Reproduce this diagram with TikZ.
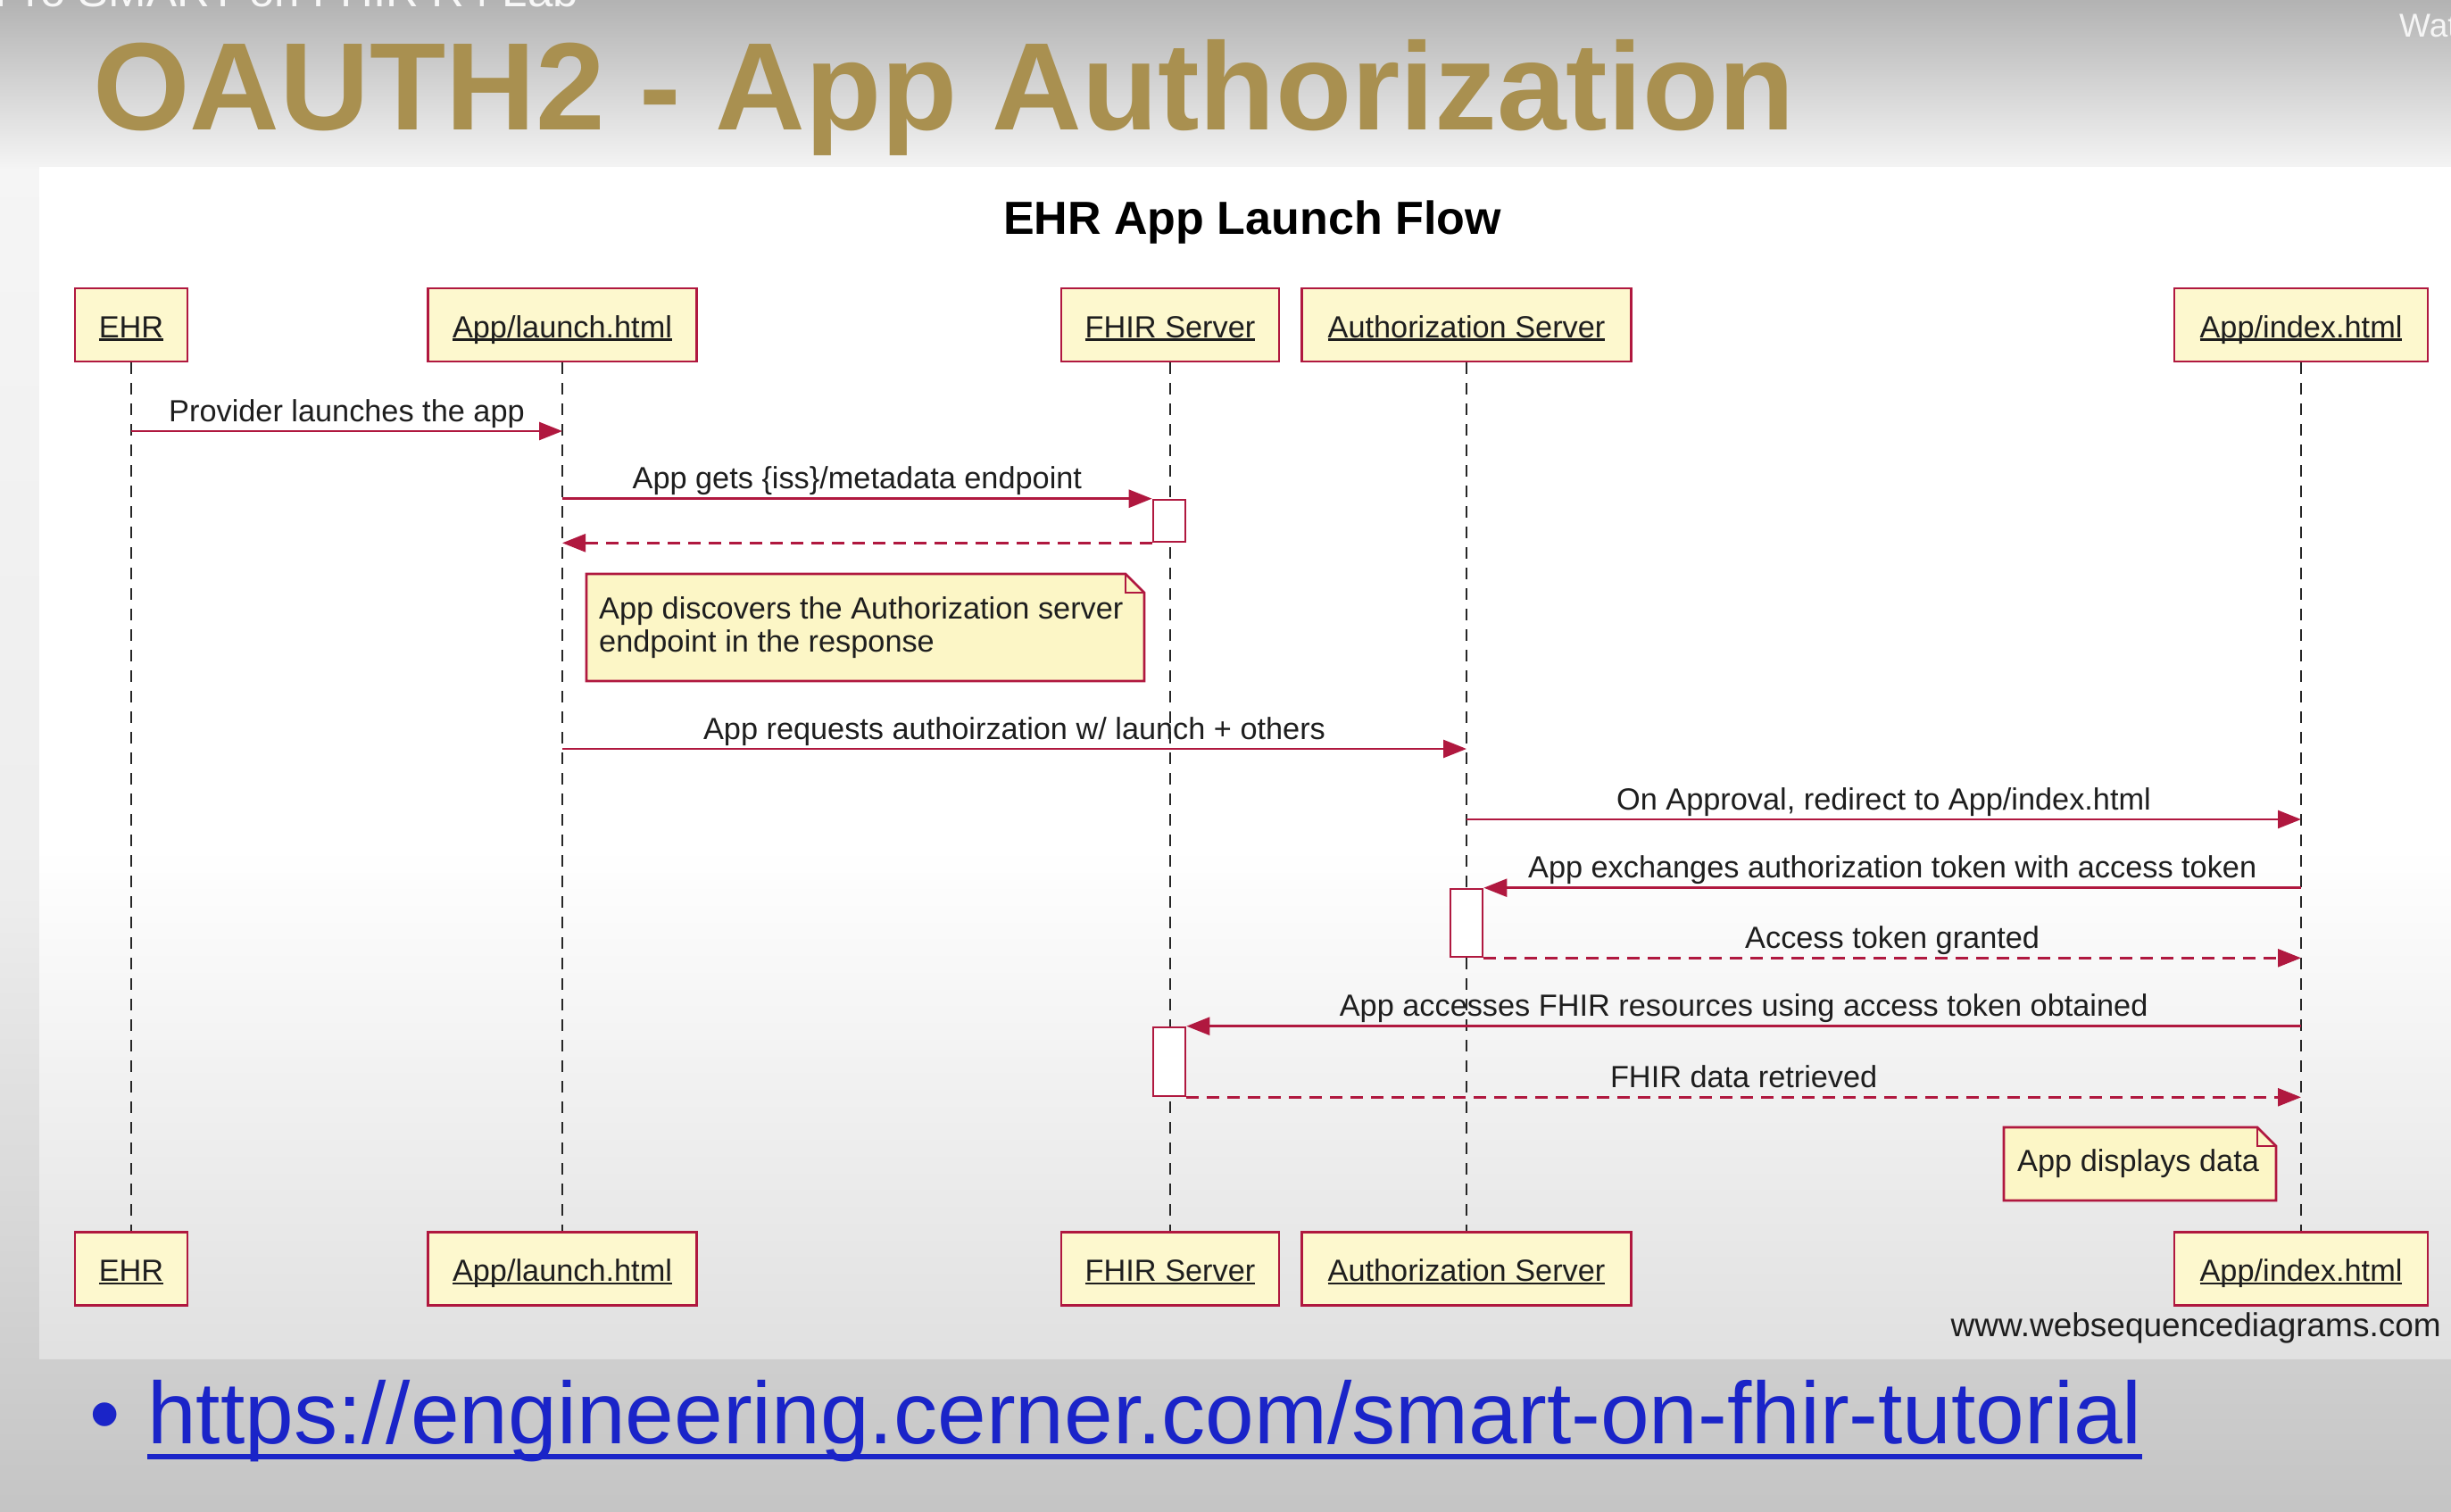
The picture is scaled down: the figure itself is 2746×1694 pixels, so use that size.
\documentclass[tikz,border=0pt]{standalone}
\usepackage{fontspec}
\setmainfont{Liberation Sans}
\usetikzlibrary{arrows.meta}

\definecolor{seqred}{HTML}{B0183F}
\definecolor{boxfill}{HTML}{FDF8CE}
\definecolor{notefill}{HTML}{FCF6C6}
\definecolor{titlegold}{HTML}{A99050}
\definecolor{linkblue}{HTML}{1A24C8}
\definecolor{inkgray}{HTML}{1E1E1E}

% underlined participant name, rule sitting just under the baseline
\newsavebox\ulnamebox
\newcommand\ulname[1]{\sbox\ulnamebox{#1}\rlap{\rule[-3.5pt]{\wd\ulnamebox}{2.2pt}}\usebox\ulnamebox}

\tikzset{
  diagfont/.style={font=\fontsize{34.3}{37}\selectfont, text=inkgray},
  participant/.style={draw=seqred, line width=2.6pt, fill=boxfill, minimum height=82pt,
    inner sep=0pt, text height=32pt, text depth=4pt, diagfont},
  lifeline/.style={draw=black!85, line width=2.2pt, dash pattern=on 13pt off 10pt},
  msg/.style={draw=seqred, line width=2.6pt, -{Triangle[length=26pt,width=20pt]}},
  reply/.style={msg, dash pattern=on 14pt off 9pt},
  msglabel/.style={diagfont, anchor=base, yshift=11pt, inner sep=0pt},
  activation/.style={draw=seqred, line width=2.6pt, fill=white, minimum width=36pt, inner sep=0pt},
  noteline/.style={draw=seqred, line width=2.6pt, fill=notefill, line join=miter},
  notetext/.style={diagfont, inner sep=0pt, align=left},
}

\begin{document}
\begin{tikzpicture}[x=1pt, y=-1pt]
\useasboundingbox (0,0) rectangle (2746,1694);
\clip (0,0) rectangle (2746,1694);

% slide background
\shade[top color=black!30, bottom color=black!4] (0,0) rectangle (2746,190);
\shade[top color=black!4, bottom color=black!7] (0,189) rectangle (2746,1000);
\shade[top color=black!7, bottom color=black!23] (0,999) rectangle (2746,1694);

% diagram sheet
\fill[white] (44,187) rectangle (2746,950);
\shade[top color=white, bottom color=black!12] (44,949) rectangle (2746,1522);

% header texts
\node[anchor=base west, inner sep=0pt, font=\fontsize{51}{55}\selectfont, text=black!3] (labtag) at (-6,8) {Pro SMART on FHIR R4 Lab};
\node[anchor=base west, inner sep=0pt, font=\fontsize{37}{40}\selectfont, text=black!4] (watch) at (2688,42) {Wat};
\node[anchor=base west, inner sep=0pt, font=\fontsize{139.5}{160}\selectfont\bfseries, text=titlegold] (slidetitle) at (104,145) {OAUTH2 - App Authorization};

% diagram title
\node[anchor=base, inner sep=0pt, font=\fontsize{52}{60}\selectfont\bfseries, text=black] (flowtitle) at (1403,262) {EHR App Launch Flow};

% participants, top and bottom
\node[participant, minimum width=126pt] (ehrT)  at (147,364)  {\ulname{EHR}};
\node[participant, minimum width=301pt] (appT)  at (630,364)  {\ulname{App/launch.html}};
\node[participant, minimum width=244pt] (fhirT) at (1311,364) {\ulname{FHIR Server}};
\node[participant, minimum width=369pt] (authT) at (1643,364) {\ulname{Authorization Server}};
\node[participant, minimum width=284pt] (idxT)  at (2578,364) {\ulname{App/index.html}};

\node[participant, minimum width=126pt] (ehrB)  at (147,1421.5)  {\ulname{EHR}};
\node[participant, minimum width=301pt] (appB)  at (630,1421.5)  {\ulname{App/launch.html}};
\node[participant, minimum width=244pt] (fhirB) at (1311,1421.5) {\ulname{FHIR Server}};
\node[participant, minimum width=369pt] (authB) at (1643,1421.5) {\ulname{Authorization Server}};
\node[participant, minimum width=284pt] (idxB)  at (2578,1421.5) {\ulname{App/index.html}};

% lifelines
\draw[lifeline] (ehrT.south)  -- (ehrB.north);
\draw[lifeline] (appT.south)  -- (appB.north);
\draw[lifeline] (fhirT.south) -- (fhirB.north);
\draw[lifeline] (authT.south) -- (authB.north);
\draw[lifeline] (idxT.south)  -- (idxB.north);

% activation bars
\node[activation, minimum height=47pt] (act1) at (1310,583.5) {};
\node[activation, minimum height=76pt] (act2) at (1643,1034) {};
\node[activation, minimum height=77pt] (act3) at (1310,1189.5) {};

% messages
\draw[msg] (ehrT |- 0,483) -- node[msglabel] (l1) {Provider launches the app} (appT |- 0,483);
\draw[msg] (appT |- act1.north) -- node[msglabel] (l2) {App gets \{iss\}/metadata endpoint} (act1.north west);
\draw[reply] (act1.south west) -- (appT |- act1.south);

% note on the discovery step
\filldraw[noteline] (657,643) -- (1261,643) -- (1282,664) -- (1282,763) -- (657,763) -- cycle;
\draw[noteline, fill=none] (1261,643) -- (1261,664) -- (1282,664);
\node[notetext, anchor=west] (note1) at (671,703) {App discovers the Authorization server\\endpoint in the response};

\draw[msg] (appT |- 0,839) -- node[msglabel] (l4) {App requests authoirzation w/ launch + others} (authT |- 0,839);
\draw[msg] (authT |- 0,918) -- node[msglabel] (l5) {On Approval, redirect to App/index.html} (idxT |- 0,918);
\draw[msg] (idxT |- act2.north) -- node[msglabel] (l6) {App exchanges authorization token with access token} (act2.north east);
\draw[reply] (act2.south east) -- node[msglabel] (l7) {Access token granted} (idxT |- act2.south);
\draw[msg] (idxT |- act3.north) -- node[msglabel] (l8) {App accesses FHIR resources using access token obtained} (act3.north east);
\draw[reply] (act3.south east) -- node[msglabel] (l9) {FHIR data retrieved} (idxT |- act3.south);

% closing note
\filldraw[noteline] (2245,1263) -- (2529,1263) -- (2550,1284) -- (2550,1345) -- (2245,1345) -- cycle;
\draw[noteline, fill=none] (2529,1263) -- (2529,1284) -- (2550,1284);
\node[notetext, anchor=base west] (note2) at (2260,1312) {App displays data};

% generator credit
\node[anchor=base east, inner sep=0pt, font=\fontsize{37}{40}\selectfont, text=inkgray] (wsd) at (2735,1497) {www.websequencediagrams.com};

% link bullet
\node[anchor=base, inner sep=0pt, font=\fontsize{98}{110}\selectfont, text=linkblue] (bullet) at (118,1617) {•};
\node[anchor=base west, inner sep=0pt, font=\fontsize{98.3}{110}\selectfont, text=linkblue] (url) at (165,1617) {https://engineering.cerner.com/smart-on-fhir-tutorial};
\draw[linkblue, line width=6pt] ([yshift=-15pt]url.base west) -- ([yshift=-15pt]url.base east);
\end{tikzpicture}
\end{document}
